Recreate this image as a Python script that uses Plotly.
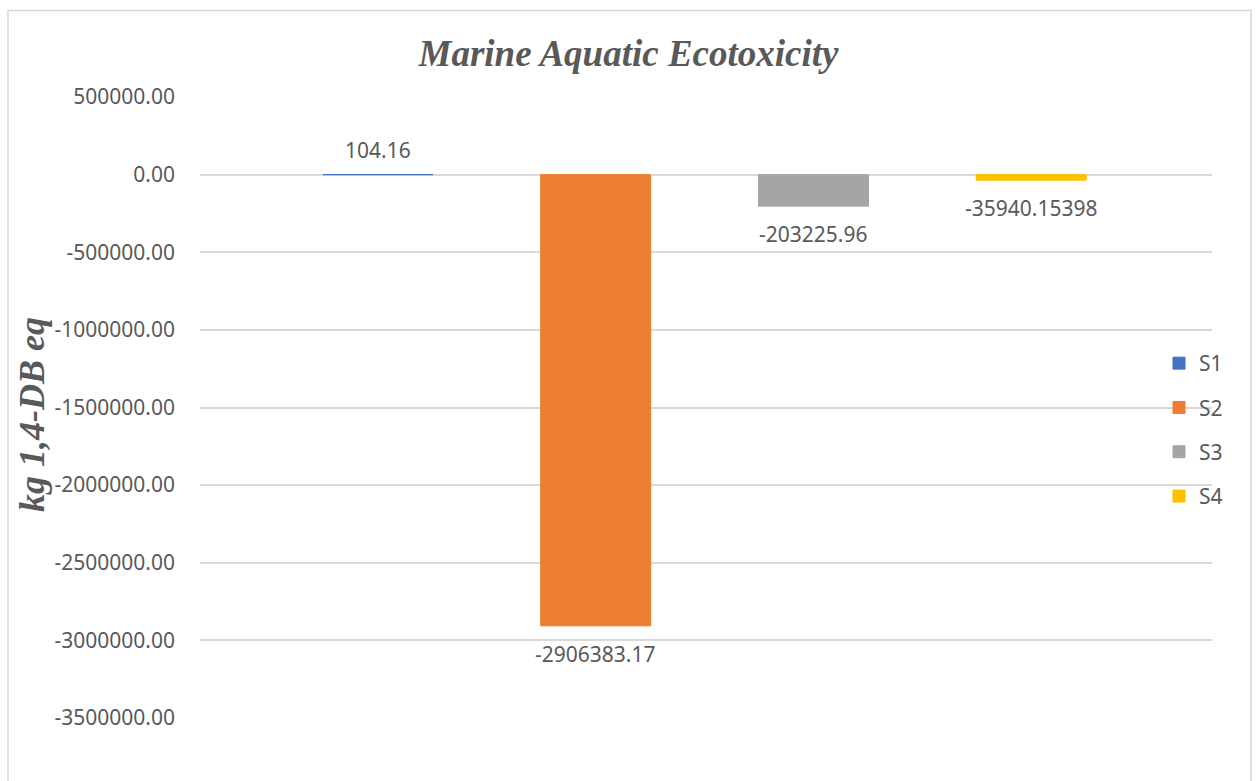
import plotly.graph_objects as go

# Scenario results for marine aquatic ecotoxicity (kg 1,4-DB eq)
scenarios = ["S1", "S2", "S3", "S4"]
values = [104.16, -2906383.17, -203225.96, -35940.15398]
colors = ["#4472C4", "#ED7D31", "#A5A5A5", "#FFC000"]
y_ticks = [500000, 0, -500000, -1000000, -1500000, -2000000, -2500000, -3000000, -3500000]

W, H = 1257, 781
L, R, T, B = 200, 45, 97, 63
pw, ph = W - L - R, H - T - B

text_col = "#595959"
grid_col = "#D9D9D9"
sans = "Noto Sans, Open Sans, sans-serif"
serif = "Liberation Serif, Times New Roman, serif"

fig = go.Figure()
for i, (name, val, col) in enumerate(zip(scenarios, values, colors)):
    fig.add_trace(go.Bar(
        x=[name], y=[val], name=name,
        marker=dict(color=col, line=dict(color=col, width=1)),
        width=0.505,
        legendgroup=name,
        hoverinfo="skip",
    ))
    fig.add_annotation(
        x=name, y=val, text=str(val), showarrow=False,
        yanchor="middle", yshift=25 if val >= 0 else -28,
        font=dict(family=sans, size=21, color=text_col),
    )

# Outer chart border
fig.add_shape(
    type="rect", xref="paper", yref="paper",
    x0=(8 - L) / pw, x1=(1251 - L) / pw,
    y0=-0.3, y1=(H - B - 10.5) / ph,
    line=dict(color=grid_col, width=1.5), fillcolor="rgba(0,0,0,0)",
    layer="below",
)

# Vertical axis title
fig.add_annotation(
    xref="paper", yref="paper",
    x=(32 - L) / pw, y=(H - B - 415) / ph,
    text="<b><i>kg 1,4-DB eq</i></b>", textangle=-90, showarrow=False,
    xanchor="center", yanchor="middle",
    font=dict(family=serif, size=36, color=text_col),
)

fig.update_layout(
    width=W, height=H,
    margin=dict(l=L, r=R, t=T, b=B),
    paper_bgcolor="white", plot_bgcolor="white",
    barmode="overlay",
    showlegend=True,
    title=dict(
        text="<b><i>Marine Aquatic Ecotoxicity</i></b>",
        x=0.5, xref="container", xanchor="center",
        y=1 - 53 / H, yref="container", yanchor="middle",
        font=dict(family=serif, size=37, color=text_col),
    ),
    legend=dict(
        x=(1159 - L) / pw, xanchor="left",
        y=(H - B - 430) / ph, yanchor="middle",
        font=dict(family=sans, size=21, color=text_col),
        bgcolor="rgba(0,0,0,0)",
        tracegroupgap=14,
        itemclick=False, itemdoubleclick=False,
    ),
    xaxis=dict(
        type="category", categoryorder="array", categoryarray=scenarios,
        range=[-0.817, 3.83],
        showticklabels=False, showgrid=False, zeroline=False, showline=False,
    ),
    yaxis=dict(
        range=[-3500000, 500000],
        tickvals=y_ticks, ticktext=[f"{v:.2f}" for v in y_ticks],
        showgrid=True, gridcolor=grid_col, gridwidth=1.5,
        zeroline=True, zerolinecolor=grid_col, zerolinewidth=1.5,
        showline=False, ticks="",
        ticklabelstandoff=24,
        tickfont=dict(family=sans, size=21, color=text_col),
    ),
)

fig.write_html("out.html")
